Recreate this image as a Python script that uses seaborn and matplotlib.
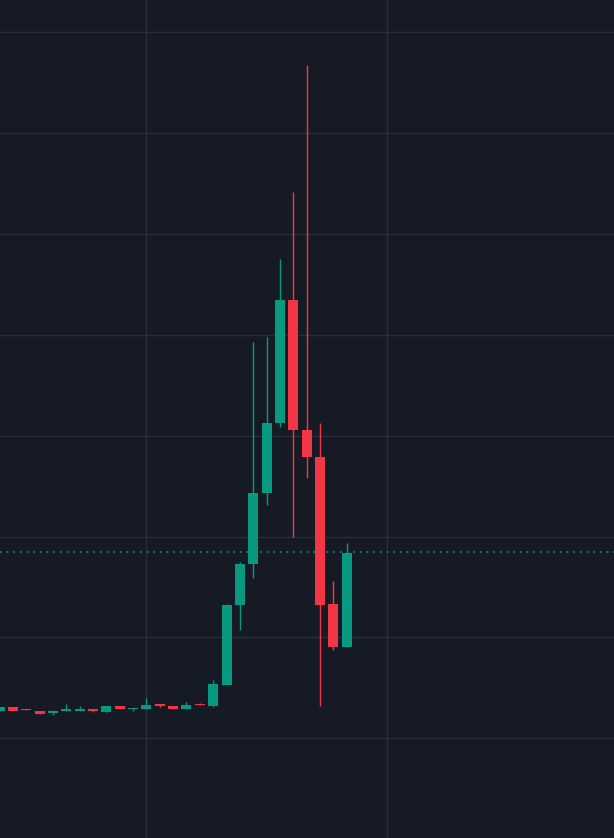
import numpy as np
import matplotlib.pyplot as plt
import seaborn as sns

sns.set_theme(style="dark")

# OHLC values (arbitrary price units)
opens = [127, 131, 129, 127, 125, 127, 127, 129, 126, 132, 129, 129, 134, 132, 129, 134, 132, 153, 233, 274, 345, 415, 538, 408, 381, 234, 191]
highs = [131, 131, 129, 127, 128, 134, 132, 129, 132, 132, 130, 140, 134, 132, 136, 135, 158, 234, 276, 496, 501, 579, 646, 773, 415, 257, 295]
lows = [127, 127, 128, 124, 123, 127, 127, 126, 126, 129, 127, 129, 131, 129, 129, 133, 131, 153, 208, 260, 333, 411, 301, 360, 132, 188, 191]
closes = [131, 127, 128, 124, 127, 129, 129, 127, 132, 129, 130, 133, 132, 129, 133, 133, 154, 233, 274, 345, 415, 538, 408, 381, 233, 191, 285]
last_price = 286
h_grid = [32, 133, 234, 335, 436, 537, 637, 738]
v_grid = [10.94, 29.0]

bg = "#161a25"
up, down = "#089981", "#f23645"

fig, ax = plt.subplots(figsize=(6.14, 8.38), dpi=100)
fig.subplots_adjust(0, 0, 1, 1)
fig.patch.set_facecolor(bg)
ax.set_facecolor(bg)

for y in h_grid:
    ax.axhline(838 - y, color="#2a2e39", lw=1, zorder=0)
for x in v_grid:
    ax.axvline(x, color="#2a2e39", lw=1, zorder=0)

idx = np.arange(len(opens))
for i, o, h, l, c in zip(idx, opens, highs, lows, closes):
    col = up if c >= o else down
    ax.vlines(i - 0.03, l, h, color=col, lw=1, zorder=2)
    ax.bar(i - 0.03, max(abs(c - o), 1), bottom=min(o, c), width=0.75,
           color=col, linewidth=0, edgecolor=col, zorder=3)

ax.axhline(last_price, color=up, lw=1.2, ls=(0, (1, 3)), zorder=1)

ax.set_xlim(0, 46)
ax.set_ylim(0, 838)
ax.set_xticks([])
ax.set_yticks([])
for s in ax.spines.values():
    s.set_visible(False)

fig.savefig("out.png", dpi=100, facecolor=bg)
